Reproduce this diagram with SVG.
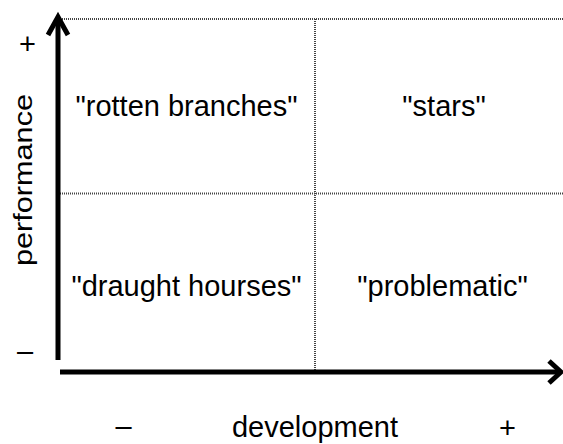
<svg xmlns="http://www.w3.org/2000/svg" width="563" height="444" viewBox="0 0 563 444">
<style>
.lbl{font-family:"Liberation Sans",Arial,sans-serif;font-size:29px;fill:#000;text-anchor:middle}
.grid{stroke:#444;stroke-width:2;stroke-dasharray:1 1;fill:none}
.axis{stroke:#000;stroke-width:5;fill:none}
</style>
<rect width="563" height="444" fill="#fff"/>
<g id="grid">
<line class="grid" x1="62" y1="19" x2="563" y2="19"/>
<line class="grid" x1="60" y1="193.5" x2="563" y2="193.5"/>
<line class="grid" x1="315" y1="19" x2="315" y2="370"/>
</g>
<g id="connectors">
<line class="axis" x1="58" y1="18" x2="58" y2="360"/>
<polyline class="axis" points="48,35 58,17 68,35" stroke-linejoin="miter"/>
<line class="axis" x1="60" y1="372" x2="560" y2="372"/>
<polyline class="axis" points="549,361 561,372 549,383" stroke-linejoin="miter"/>
</g>
<g id="rotten"><text class="lbl" x="186.5" y="116">"rotten branches"</text></g>
<g id="stars"><text class="lbl" x="444" y="116">"stars"</text></g>
<g id="draught"><text class="lbl" x="186.5" y="296">"draught hourses"</text></g>
<g id="problematic"><text class="lbl" x="442.5" y="296">"problematic"</text></g>
<g id="yaxis-label"><text class="lbl" transform="translate(32,180) rotate(-90)" x="0" y="0" style="font-size:26px" textLength="172" lengthAdjust="spacingAndGlyphs">performance</text></g>
<g id="xaxis-label"><text class="lbl" x="315" y="437">development</text></g>
<g id="ticks">
<text class="lbl" x="27.5" y="53.5">+</text>
<text class="lbl" x="25" y="361">–</text>
<text class="lbl" x="123.5" y="436">–</text>
<text class="lbl" x="507.5" y="438">+</text>
</g>
</svg>
